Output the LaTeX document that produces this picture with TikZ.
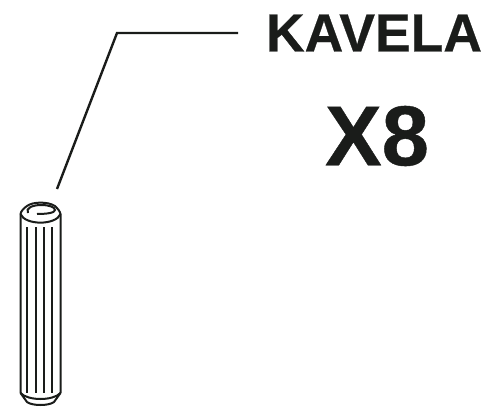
\documentclass[tikz,border=0pt]{standalone}
\usepackage{fontspec}
\setmainfont{Liberation Sans}
\newfontfamily\labfont[FakeBold=0.5]{Liberation Sans Bold}
\definecolor{ink}{HTML}{1A1C1A}
\tikzset{pin/.style={line width=2pt,draw=ink},rib/.style={line width=2pt,draw=ink},lead/.style={line width=2.4pt,draw=ink},lab/.style={inner sep=0pt,text=ink}}
\begin{document}
\begin{tikzpicture}[x=1pt,y=-1pt]
\useasboundingbox (0,0) rectangle (488,415);
\node[lab,font=\labfont\fontsize{53.5}{54}\selectfont] (kavela) at (374,33) {KAVELA};
\node[lab,font=\labfont\fontsize{85}{85}\selectfont] (x8) at (377,136) {X8};
\coordinate (bend) at (117,33);
\coordinate (lead1) at (238,33);
\coordinate (lead2) at (57,189);
\draw[lead] (lead1) -- (bend) -- (lead2);
% outline
\draw[pin] (20.5,393) -- (20.5,214) .. controls (21,211) and (24,208) .. (27,206) .. controls (33,201.5) and (48,201.5) .. (55,206) .. controls (57,208) and (60,211) .. (60.5,214) -- (60.5,393);
% end cap top
\draw[pin] (28,213) .. controls (25,208) and (33,205) .. (41,205) .. controls (49,205) and (55,207) .. (55,210) .. controls (55,213) and (46,214) .. (37,214);
\draw[pin] (20.5,214) .. controls (25,225.5) and (56,225.5) .. (60.5,214);
% end cap bottom
\draw[pin] (20.5,393) -- (27,402) .. controls (32,406) and (49,406) .. (54,402) -- (60.5,393);
\draw[pin] (20.5,393) .. controls (28,401) and (53,401) .. (60.5,393);
\foreach \x in {27,35.5,43.5,52}{\draw[rib] (\x,227) -- (\x,393);}
\end{tikzpicture}
\end{document}
